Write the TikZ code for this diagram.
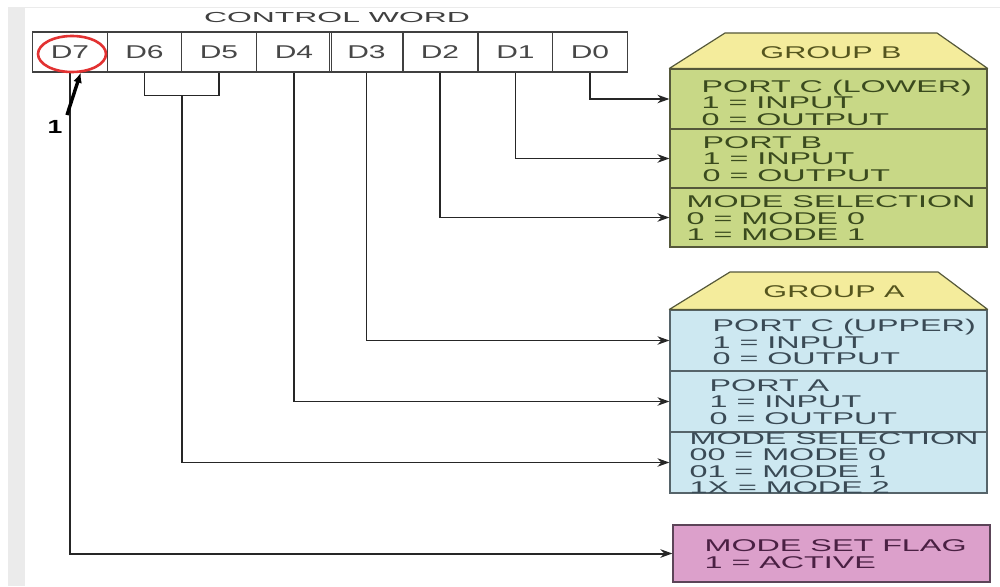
\documentclass[tikz,border=0pt]{standalone}
\usepackage{fontspec}
\setmainfont{Liberation Sans}
\usepackage{graphicx}
\usetikzlibrary{arrows.meta,positioning,shapes.geometric}
\definecolor{PageGray}{HTML}{EBEBEB}
\definecolor{GrpBFill}{HTML}{C8D886}
\definecolor{GrpBText}{HTML}{3A4A1E}
\definecolor{GrpBLine}{HTML}{55583A}
\definecolor{GrpAFill}{HTML}{CDE8F1}
\definecolor{GrpAText}{HTML}{3A4A55}
\definecolor{GrpALine}{HTML}{56646A}
\definecolor{HdrFill}{HTML}{F4EC9C}
\definecolor{HdrText}{HTML}{55551E}
\definecolor{FlagFill}{HTML}{DCA0CB}
\definecolor{FlagText}{HTML}{4A2043}
\definecolor{FlagLine}{HTML}{5C4458}
\definecolor{RingRed}{HTML}{E23232}

% stretch text sideways, as in the reference
\newcommand{\wide}[2][1.9]{\scalebox{#1}[1]{#2}}
\newcommand{\boxlines}[1]{\wide{\begin{tabular}{@{}l@{}}#1\end{tabular}}}

\tikzset{
  cell/.style={draw=black!75, line width=1.2pt, minimum width=74.5pt, minimum height=40pt,
    inner sep=0pt, text=black!72, font=\fontsize{18.5}{18}\selectfont},
  sec/.style={line width=1.2pt, minimum width=317pt, inner sep=0pt},
  txt/.style={inner sep=0pt, font=\fontsize{17}{16}\selectfont},
  hdr/.style={fill=HdrFill, draw=GrpBLine, line width=1.2pt, line join=round},
  wire/.style={line width=1.6pt, draw=black!85}
}

\begin{document}
\begin{tikzpicture}[x=1pt, y=-1pt, >={Stealth[length=12pt, width=8.5pt]}]
  \useasboundingbox (0,0) rectangle (1000,586);
  \fill[PageGray] (8,7) rectangle (25,586);
  \draw[PageGray, line width=0.6pt] (25,7) -- (1000,7);

  % control word
  \node[font=\fontsize{14.5}{14.5}\selectfont, text=black!75] (title) at (337,18) {\wide[2.2]{CONTROL WORD}};
  \foreach \bit/\xc in {7/70,6/144.5,5/219,4/294,3/366.5,2/440,1/515.5,0/590}
    \node[cell] (d\bit) at (\xc,52) {\wide[1.62]{D\bit}};

  % group B
  \node[sec, draw=GrpBLine, fill=GrpBFill, minimum height=60pt] (pcl) at (828.5,99) {};
  \node[sec, draw=GrpBLine, fill=GrpBFill, minimum height=59pt] (pb) at (828.5,158.5) {};
  \node[sec, draw=GrpBLine, fill=GrpBFill, minimum height=59pt] (mb) at (828.5,217.5) {};
  \draw[hdr] (pcl.north west) -- (725,33) -- (937,33) -- (pcl.north east) -- cycle;
  \node[txt, text=HdrText] (grpB) at (831,53) {\wide[1.8]{GROUP B}};
  \node[txt, text=GrpBText, right=32pt of pcl.west, yshift=-6pt] (pclT) {\boxlines{PORT C (LOWER)\\1 = INPUT\\0 = OUTPUT}};
  \node[txt, text=GrpBText, right=33pt of pb.west, yshift=-3pt] (pbT) {\boxlines{PORT B\\1 = INPUT\\0 = OUTPUT}};
  \node[txt, text=GrpBText, right=17pt of mb.west, yshift=-3pt] (mbT) {\boxlines{MODE SELECTION\\0 = MODE 0\\1 = MODE 1}};

  % group A
  \node[sec, draw=GrpALine, fill=GrpAFill, minimum height=61pt] (pcu) at (828.5,340.5) {};
  \node[sec, draw=GrpALine, fill=GrpAFill, minimum height=61pt] (pa) at (828.5,401.5) {};
  \node[sec, draw=GrpALine, fill=GrpAFill, minimum height=61pt] (ma) at (828.5,462.5) {};
  \draw[hdr] (pcu.north west) -- (730,272) -- (938,272) -- (pcu.north east) -- cycle;
  \node[txt, text=HdrText] (grpA) at (834,292) {\wide[1.8]{GROUP A}};
  \node[txt, text=GrpAText, right=43pt of pcu.west, yshift=-4pt] (pcuT) {\boxlines{PORT C (UPPER)\\1 = INPUT\\0 = OUTPUT}};
  \node[txt, text=GrpAText, right=40pt of pa.west, yshift=-3pt] (paT) {\boxlines{PORT A\\1 = INPUT\\0 = OUTPUT}};
  \node[txt, text=GrpAText, right=20pt of ma.west, yshift=-3pt, font=\fontsize{17}{15.2}\selectfont] (maT) {\boxlines{MODE SELECTION\\00 = MODE 0\\01 = MODE 1\\1X = MODE 2}};

  % mode set flag
  \node[sec, draw=FlagLine, fill=FlagFill, minimum height=57pt] (flag) at (831.5,553.5) {};
  \node[txt, text=FlagText, right=32pt of flag.west, yshift=-3pt] (flagT) {\boxlines{MODE SET FLAG\\1 = ACTIVE}};

  % bit lines
  \draw[wire] (d6.south) -- ++(0,23) -| node[pos=0.25, coordinate] (d65) {} (d5.south);
  \draw[wire, ->] (d0.south) |- (pcl.west);
  \draw[wire, ->] (d1.south) |- (pb.west);
  \draw[wire, ->] (d2.south) |- (mb.west);
  \draw[wire, ->] (d3.south) |- (pcu.west);
  \draw[wire, ->] (d4.south) |- (pa.west);
  \draw[wire, ->] (d65) |- (ma.west);
  \draw[wire, line width=2pt, ->] (d7.south) |- (flag.west);

  % D7 marked
  \node[draw=RingRed, line width=2.6pt, ellipse, minimum width=68pt, minimum height=36pt, inner sep=0pt] (ring) at (72,54) {};
  \node[font=\fontsize{19}{19}\selectfont\bfseries] (one) at (55,127) {\wide[1.4]{1}};
  \coordinate (tail) at (67,115);
  \draw[line width=3.4pt, -{Latex[length=10pt, width=9pt]}] (tail) -- (ring.-65);
\end{tikzpicture}
\end{document}
